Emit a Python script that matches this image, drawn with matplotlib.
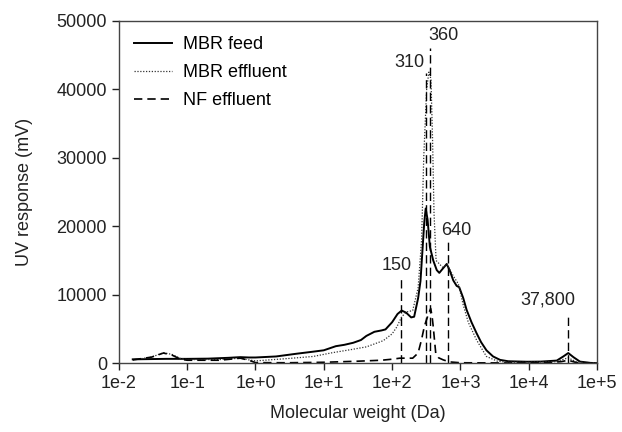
import numpy as np
import matplotlib
matplotlib.use('Agg')
import matplotlib.pyplot as plt

plt.rcParams['font.family'] = ['Liberation Sans', 'DejaVu Sans']

# MBR feed (solid)
feed_mw = [0.016, 0.03, 0.05, 0.1, 0.2, 0.4, 0.6, 0.8, 1.0, 2, 4, 7, 10, 15, 20, 27, 35, 42, 55,
           70, 80, 100, 120, 138, 160, 190, 210, 240, 260, 280, 295, 310, 330, 357, 400, 450,
           490, 560, 630, 700, 785, 880, 960, 1100, 1230, 1450, 1720, 2000, 2400, 3000, 3800,
           5000, 9400, 15000, 25700, 32000, 37800, 45000, 56000, 80000, 100000]
feed_uv = [580, 620, 650, 650, 680, 800, 900, 850, 850, 1000, 1400, 1700, 1900, 2500, 2700, 3000,
           3400, 4000, 4600, 4800, 4950, 6000, 7200, 7700, 7400, 6700, 6800, 9500, 12000, 17000,
           20500, 22600, 21000, 17000, 15000, 13600, 13200, 13900, 14500, 13500, 12100, 11300,
           11100, 9500, 7800, 6000, 4400, 3100, 1900, 1000, 500, 300, 230, 250, 400, 1000, 1500,
           900, 250, 60, 30]

# MBR effluent (dotted)
mbr_mw = [0.016, 0.03, 0.045, 0.06, 0.08, 0.1, 0.3, 0.6, 0.8, 1.0, 3, 7, 13.4, 25, 42, 74, 100,
          117, 138, 163, 200, 240, 270, 290, 320, 345, 370, 390, 410, 440, 550, 640, 780, 930,
          1100, 1300, 1720, 2400, 3500, 5000, 10000, 25000, 37800, 50000, 100000]
mbr_uv = [500, 900, 1550, 1300, 700, 550, 550, 750, 500, 350, 700, 1000, 1550, 2000, 2400, 3300,
          4300, 5300, 6800, 7500, 7700, 11000, 18000, 30000, 40000, 42500, 41500, 33000, 22000,
          15000, 14000, 14400, 12800, 11600, 8500, 6000, 3400, 1000, 300, 150, 150, 250, 800,
          200, 30]

# NF effluent (dashed)
nf_mw = [0.016, 0.03, 0.045, 0.06, 0.08, 0.1, 0.3, 0.6, 0.8, 1.0, 3, 10, 30, 70, 100, 130, 200,
         240, 270, 295, 310, 340, 367, 385, 400, 435, 480, 560, 700, 1000, 5000, 20000, 30000,
         37800, 50000, 100000]
nf_uv = [500, 900, 1500, 1200, 600, 450, 450, 750, 450, 100, 80, 150, 300, 450, 600, 750, 750,
         1500, 3500, 5300, 6000, 7200, 8000, 6800, 5300, 1450, 800, 500, 200, 80, 50, 80, 250,
         450, 100, 20]

# annotation markers: position, line top, label
mark_mw = [135, 310, 360, 660, 37800]
mark_top = [12700, 42300, 46000, 17900, 6700]
mark_labels = ['150', '310', '360', '640', '37,800']

tick_pos = [1e-2, 1e-1, 1e0, 1e1, 1e2, 1e3, 1e4, 1e5]
tick_labels = ['1e-2', '1e-1', '1e+0', '1e+1', '1e+2', '1e+3', '1e+4', '1e+5']

fig = plt.figure(figsize=(6.22, 4.32), dpi=100)
ax = fig.add_axes([0.191, 0.159, 0.769, 0.793])

ax.plot(feed_mw, feed_uv, color='black', lw=1.4, label='MBR feed')
ax.plot(mbr_mw, mbr_uv, color='#333333', lw=0.9, linestyle=(0, (1, 1.3)), label='MBR effluent')
ax.plot(nf_mw, nf_uv, color='black', lw=1.2, linestyle=(0, (5, 3)), label='NF effluent')

for x, top in zip(mark_mw, mark_top):
    ax.plot([x, x], [0, top], color='black', lw=1.0, linestyle=(0, (6, 3)))

txt = dict(fontsize=13, color='#222222')
ax.text(117, 14300, mark_labels[0], ha='center', va='center', **txt)
ax.text(302, 43900, mark_labels[1], ha='right', va='center', **txt)
ax.text(560, 47800, mark_labels[2], ha='center', va='center', **txt)
ax.text(880, 19400, mark_labels[3], ha='center', va='center', **txt)
ax.text(19000, 9300, mark_labels[4], ha='center', va='center', **txt)

ax.set_xscale('log')
ax.set_xlim(1e-2, 1e5)
ax.set_ylim(0, 50000)
ax.set_xticks(tick_pos)
ax.set_xticklabels(tick_labels)
ax.xaxis.set_minor_locator(matplotlib.ticker.NullLocator())
ax.set_yticks([0, 10000, 20000, 30000, 40000, 50000])
ax.tick_params(direction='out', length=5, width=1, labelsize=13, colors='#222222')
for s in ax.spines.values():
    s.set_color('#444444')
    s.set_linewidth(1.0)

ax.set_xlabel('Molecular weight (Da)', fontsize=13, color='#222222', labelpad=9)
ax.set_ylabel('UV response (mV)', fontsize=13, color='#222222', labelpad=17)

ax.legend(loc='upper left', frameon=False, fontsize=13, handlelength=2.1, handletextpad=0.6,
          labelspacing=0.62, bbox_to_anchor=(0.0, 1.0), borderaxespad=0.45)

fig.savefig('out.png', dpi=100)
